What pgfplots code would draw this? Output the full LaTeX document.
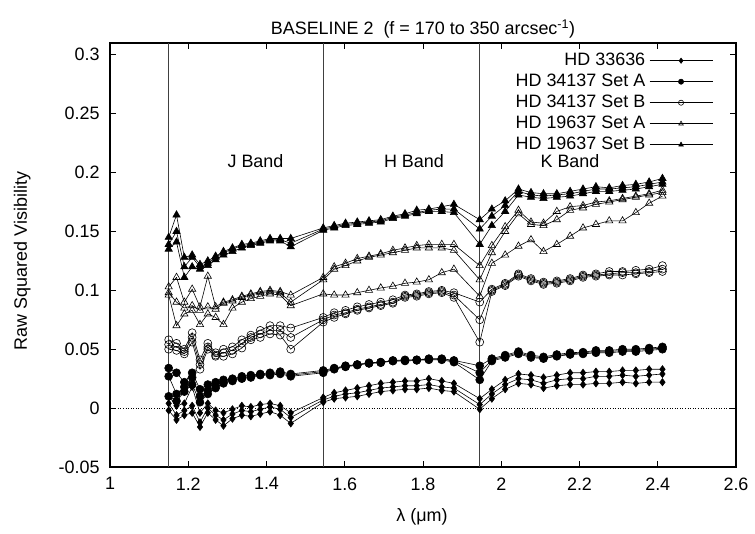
\documentclass[border=0pt]{standalone}
\usepackage{fontspec}
\setmainfont{Liberation Sans}
\usepackage{pgfplots}
\usepackage{pgfplotstable}
\pgfplotsset{compat=1.18}

% HD 33636 (diamonds)
\pgfplotstableread{
x a b c
1.150 0.010 0.004 -0.002
1.170 0.002 -0.006 -0.010
1.190 0.004 -0.002 -0.006
1.210 0.018 0.002 -0.004
1.230 -0.004 -0.012 -0.016
1.250 0.004 0.000 -0.004
1.270 -0.002 -0.006 -0.010
1.290 -0.004 -0.010 -0.015
1.313 -0.001 -0.005 -0.009
1.337 0.002 -0.002 -0.006
1.360 0.001 -0.003 -0.007
1.384 0.003 -0.001 -0.005
1.409 0.004 0.001 -0.003
1.435 0.002 -0.001 -0.006
1.462 -0.004 -0.008 -0.013
1.545 0.009 0.007 0.005
1.573 0.013 0.010 0.008
1.602 0.015 0.012 0.009
1.632 0.017 0.013 0.010
1.662 0.019 0.015 0.012
1.692 0.021 0.017 0.014
1.723 0.022 0.018 0.015
1.754 0.023 0.019 0.016
1.784 0.023 0.019 0.016
1.815 0.025 0.020 0.017
1.848 0.023 0.018 0.015
1.879 0.021 0.017 0.014
1.945 0.008 0.003 -0.001
1.976 0.016 0.012 0.008
2.010 0.024 0.020 0.016
2.044 0.029 0.025 0.021
2.076 0.028 0.024 0.020
2.108 0.026 0.021 0.017
2.142 0.028 0.024 0.019
2.176 0.030 0.025 0.020
2.209 0.030 0.025 0.020
2.242 0.031 0.027 0.021
2.276 0.031 0.027 0.021
2.310 0.032 0.028 0.022
2.344 0.032 0.027 0.021
2.378 0.033 0.028 0.022
2.412 0.033 0.029 0.022
}\tabD

% HD 34137 Set A (filled circles)
\pgfplotstableread{
x a b c
1.150 0.034 0.027 0.010
1.170 0.030 0.012 0.006
1.190 0.022 0.018 0.014
1.210 0.030 0.026 0.020
1.230 0.016 0.010 0.005
1.250 0.020 0.015 0.012
1.270 0.022 0.019 0.017
1.290 0.024 0.0225 0.021
1.313 0.025 0.024 0.023
1.337 0.027 0.0255 0.025
1.360 0.028 0.027 0.026
1.384 0.029 0.0285 0.028
1.409 0.030 0.029 0.028
1.435 0.031 0.030 0.029
1.462 0.029 0.028 0.027
1.545 0.032 0.031 0.030
1.573 0.034 0.0335 0.033
1.602 0.036 0.0355 0.035
1.632 0.037 0.037 0.0365
1.662 0.0385 0.038 0.038
1.692 0.039 0.039 0.0385
1.723 0.0405 0.040 0.040
1.754 0.041 0.0405 0.040
1.784 0.041 0.041 0.0405
1.815 0.042 0.0415 0.041
1.848 0.042 0.0415 0.041
1.879 0.0405 0.040 0.039
1.945 0.036 0.030 0.024
1.976 0.042 0.041 0.040
2.010 0.045 0.044 0.043
2.044 0.048 0.047 0.046
2.076 0.045 0.044 0.043
2.108 0.0435 0.0425 0.042
2.142 0.0455 0.0445 0.044
2.176 0.047 0.046 0.0455
2.209 0.0475 0.047 0.046
2.242 0.049 0.048 0.047
2.276 0.049 0.048 0.047
2.310 0.050 0.049 0.048
2.344 0.050 0.049 0.048
2.378 0.051 0.050 0.049
2.412 0.052 0.051 0.050
}\tabC

% HD 34137 Set B (open circles)
\pgfplotstableread{
x a b c
1.150 0.058 0.054 0.050
1.170 0.055 0.052 0.049
1.190 0.050 0.048 0.046
1.210 0.064 0.060 0.056
1.230 0.041 0.037 0.033
1.250 0.055 0.052 0.050
1.270 0.047 0.045 0.044
1.290 0.050 0.047 0.044
1.313 0.052 0.049 0.046
1.337 0.058 0.055 0.051
1.360 0.062 0.060 0.058
1.384 0.066 0.063 0.060
1.409 0.070 0.066 0.063
1.435 0.070 0.066 0.062
1.462 0.068 0.060 0.050
1.545 0.077 0.075 0.073
1.573 0.081 0.079 0.077
1.602 0.083 0.081 0.080
1.632 0.086 0.084 0.083
1.662 0.088 0.086 0.085
1.692 0.090 0.088 0.087
1.723 0.092 0.090 0.089
1.754 0.096 0.095 0.094
1.784 0.097 0.096 0.095
1.815 0.099 0.098 0.097
1.848 0.100 0.099 0.098
1.879 0.098 0.096 0.094
1.945 0.090 0.075 0.056
1.976 0.101 0.100 0.099
2.010 0.106 0.105 0.104
2.044 0.114 0.113 0.112
2.076 0.110 0.109 0.108
2.108 0.107 0.106 0.105
2.142 0.108 0.107 0.106
2.176 0.110 0.109 0.108
2.209 0.113 0.112 0.111
2.242 0.114 0.113 0.112
2.276 0.116 0.114 0.113
2.310 0.116 0.115 0.113
2.344 0.117 0.115 0.114
2.378 0.118 0.116 0.115
2.412 0.121 0.118 0.116
}\tabO

% HD 19637 Set A (open triangles)
\pgfplotstableread{
x a b c
1.150 0.103 0.098 0.096
1.170 0.111 0.090 0.070
1.190 0.090 0.085 0.080
1.210 0.101 0.087 0.083
1.230 0.086 0.083 0.071
1.250 0.112 0.086 0.080
1.270 0.086 0.084 0.077
1.290 0.090 0.089 0.071
1.313 0.092 0.091 0.085
1.337 0.095 0.094 0.090
1.360 0.097 0.096 0.093
1.384 0.099 0.098 0.095
1.409 0.100 0.099 0.097
1.435 0.099 0.098 0.096
1.462 0.096 0.090 0.087
1.545 0.111 0.109 0.097
1.573 0.120 0.118 0.096
1.602 0.123 0.121 0.096
1.632 0.127 0.125 0.098
1.662 0.129 0.128 0.100
1.692 0.131 0.130 0.102
1.723 0.134 0.132 0.1035
1.754 0.136 0.134 0.106
1.784 0.138 0.136 0.107
1.815 0.139 0.136 0.109
1.848 0.139 0.136 0.115
1.879 0.139 0.134 0.118
1.945 0.121 0.109 0.095
1.976 0.138 0.132 0.123
2.010 0.154 0.150 0.130
2.044 0.168 0.165 0.1375
2.076 0.158 0.156 0.143
2.108 0.157 0.155 0.133
2.142 0.167 0.160 0.139
2.176 0.171 0.168 0.146
2.209 0.172 0.170 0.153
2.242 0.175 0.173 0.156
2.276 0.176 0.175 0.159
2.310 0.178 0.177 0.159
2.344 0.180 0.179 0.166
2.378 0.182 0.181 0.174
2.412 0.185 0.183 0.180
}\tabT

% HD 19637 Set B (filled triangles)
\pgfplotstableread{
x a b c
1.150 0.145 0.139 0.135
1.170 0.164 0.150 0.141
1.190 0.128 0.120 0.111
1.210 0.130 0.128 0.120
1.230 0.122 0.120 0.118
1.250 0.125 0.123 0.121
1.270 0.129 0.128 0.126
1.290 0.133 0.132 0.130
1.313 0.136 0.135 0.133
1.337 0.139 0.138 0.136
1.360 0.140 0.139 0.138
1.384 0.142 0.141 0.140
1.409 0.144 0.143 0.142
1.435 0.144 0.143 0.142
1.462 0.144 0.140 0.137
1.545 0.153 0.152 0.151
1.573 0.155 0.154 0.153
1.602 0.157 0.156 0.155
1.632 0.158 0.157 0.156
1.662 0.159 0.158 0.157
1.692 0.160 0.159 0.158
1.723 0.163 0.162 0.161
1.754 0.165 0.164 0.163
1.784 0.168 0.166 0.165
1.815 0.169 0.168 0.167
1.848 0.171 0.169 0.167
1.879 0.173 0.169 0.166
1.945 0.160 0.152 0.139
1.976 0.169 0.163 0.155
2.010 0.176 0.172 0.167
2.044 0.186 0.184 0.181
2.076 0.183 0.181 0.179
2.108 0.182 0.180 0.178
2.142 0.182 0.181 0.179
2.176 0.184 0.182 0.180
2.209 0.186 0.184 0.182
2.242 0.188 0.186 0.184
2.276 0.187 0.186 0.184
2.310 0.189 0.187 0.185
2.344 0.190 0.188 0.186
2.378 0.192 0.190 0.188
2.412 0.195 0.192 0.190
}\tabF

\begin{document}
\begin{tikzpicture}
\useasboundingbox (-110bp,-67bp) rectangle (645bp,467bp);
\begin{axis}[
  at={(0,0)}, anchor=south west,
  scale only axis, width=626bp, height=424bp,
  xmin=1, xmax=2.6, ymin=-0.05, ymax=0.31,
  xtick={1,1.2,1.4,1.6,1.8,2,2.2,2.4,2.6},
  xticklabels={1,1.2,1.4,1.6,1.8,2,2.2,2.4,2.6},
  ytick={-0.05,0,0.05,0.1,0.15,0.2,0.25,0.3},
  yticklabels={-0.05,0,0.05,0.1,0.15,0.2,0.25,0.3},
  tick align=inside, major tick length=6bp,
  tick style={black, line width=0.8pt},
  axis line style={black, line width=1.3pt},
  tick label style={font=\fontsize{18}{21}\selectfont},
  xticklabel style={yshift=-7bp},
  yticklabel style={xshift=-7bp},
  legend cell align=right,
  legend plot pos=right,
  legend style={at={(0.963,0.983)}, anchor=north east, draw=none, fill=none,
    inner sep=0pt, outer sep=0pt,
    font=\fontsize{18}{21}\selectfont,
    nodes={text height=13bp, text depth=4bp, inner sep=2bp},
    /tikz/column sep=2bp},
  legend image code/.code={\draw[mark repeat=2,mark phase=2,#1] plot coordinates {(0bp,0bp) (31.5bp,0bp) (63bp,0bp)};},
  legend image post style={mark size=2.6},
  every axis plot/.append style={black, line width=0.6pt},
]
% reference lines
\addplot[black, dotted, line width=0.7pt, forget plot] coordinates {(1,0) (2.6,0)};
\addplot[black!75, line width=0.8pt, forget plot] coordinates {(1.15,-0.05) (1.15,0.31)};
\addplot[black!75, line width=0.8pt, forget plot] coordinates {(1.545,-0.05) (1.545,0.31)};
\addplot[black!75, line width=0.8pt, forget plot] coordinates {(1.945,-0.05) (1.945,0.31)};

% HD 33636
\addplot[mark=diamond*, mark size=3.6, mark options={solid, fill=black}] table[x=x,y=a]{\tabD};
\addlegendentry{HD 33636}
\addplot[mark=diamond*, mark size=3.6, mark options={solid, fill=black}, forget plot] table[x=x,y=b]{\tabD};
\addplot[mark=diamond*, mark size=3.6, mark options={solid, fill=black}, forget plot] table[x=x,y=c]{\tabD};

% HD 34137 Set A
\addplot[mark=*, mark size=4, mark options={solid, fill=black}] table[x=x,y=a]{\tabC};
\addlegendentry{HD 34137 Set A}
\addplot[mark=*, mark size=4, mark options={solid, fill=black}, forget plot] table[x=x,y=b]{\tabC};
\addplot[mark=*, mark size=4, mark options={solid, fill=black}, forget plot] table[x=x,y=c]{\tabC};

% HD 34137 Set B
\addplot[mark=o, mark size=4, mark options={solid}] table[x=x,y=a]{\tabO};
\addlegendentry{HD 34137 Set B}
\addplot[mark=o, mark size=4, mark options={solid}, forget plot] table[x=x,y=b]{\tabO};
\addplot[mark=o, mark size=4, mark options={solid}, forget plot] table[x=x,y=c]{\tabO};

% HD 19637 Set A
\addplot[mark=triangle, mark size=4.2, mark options={solid}] table[x=x,y=a]{\tabT};
\addlegendentry{HD 19637 Set A}
\addplot[mark=triangle, mark size=4.2, mark options={solid}, forget plot] table[x=x,y=b]{\tabT};
\addplot[mark=triangle, mark size=4.2, mark options={solid}, forget plot] table[x=x,y=c]{\tabT};

% HD 19637 Set B
\addplot[mark=triangle*, mark size=4.2, mark options={solid, fill=black}] table[x=x,y=a]{\tabF};
\addlegendentry{HD 19637 Set B}
\addplot[mark=triangle*, mark size=4.2, mark options={solid, fill=black}, forget plot] table[x=x,y=b]{\tabF};
\addplot[mark=triangle*, mark size=4.2, mark options={solid, fill=black}, forget plot] table[x=x,y=c]{\tabF};

\node[font=\fontsize{18}{21}\selectfont, anchor=west, inner sep=0pt] at (axis cs:1.3,0.21) {J Band};
\node[font=\fontsize{18}{21}\selectfont, anchor=west, inner sep=0pt] at (axis cs:1.7,0.21) {H Band};
\node[font=\fontsize{18}{21}\selectfont, anchor=west, inner sep=0pt] at (axis cs:2.1,0.21) {K Band};
\end{axis}
\node[anchor=base, font=\fontsize{18}{21}\selectfont] at (313bp,432bp) {BASELINE 2\ \ (f = 170 to 350 arcsec\textsuperscript{-1})};
\node[anchor=base, font=\fontsize{18}{21}\selectfont] at (312bp,-54bp) {λ (μm)};
\node[anchor=base, rotate=90, font=\fontsize{18}{21}\selectfont] at (-83bp,206bp) {Raw Squared Visibility};
\end{tikzpicture}
\end{document}
